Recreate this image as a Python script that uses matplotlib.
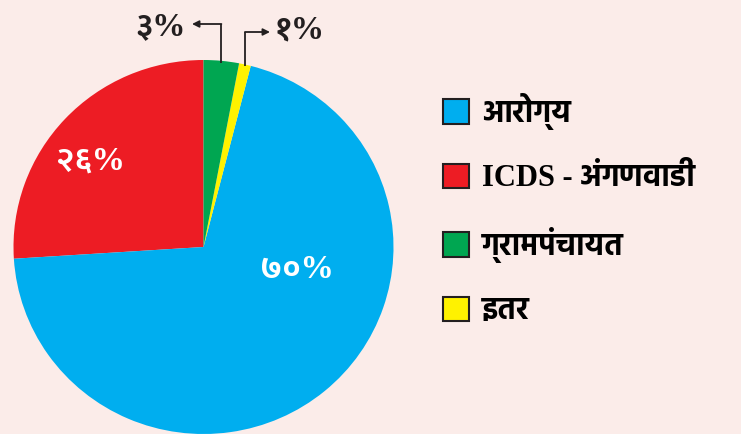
import numpy as np
import matplotlib
matplotlib.use('Agg')
from matplotlib import pyplot as plt
from matplotlib.patches import Patch

### Data ###
labels = ['ICDS - अंगणवाडी', 'आरोग्य', 'इतर', 'ग्रामपंचायत']
shares = [26, 70, 1, 3]
share_text = ['२६%', '७०%', '१%', '३%']
colors = ['#ed1c24', '#00aeef', '#fff200', '#00a651']
legend_order = ['आरोग्य', 'ICDS - अंगणवाडी', 'ग्रामपंचायत', 'इतर']
############

BG = '#fbece9'
INK = '#231f20'
DEVA = ['Liberation Serif', 'Hind', 'DejaVu Sans']
DIGITS = ['Liberation Serif', 'Ek Mukta', 'DejaVu Sans']

W, H = 741, 434
CX, CY = 203.5, 247      # pie centre in pixels (from top left)
RX, RY = 190, 187        # pixels per unit radius

fig = plt.figure(figsize=(W / 100, H / 100), dpi=100, facecolor=BG)
ax = fig.add_axes((0, 0, 1, 1))
ax.set_facecolor(BG)

wedges, _ = ax.pie(shares, colors=colors, startangle=90, counterclock=True,
                   wedgeprops=dict(linewidth=0))
ax.set_aspect('auto')
ax.set_xlim(-CX / RX, (W - CX) / RX)
ax.set_ylim(-(H - CY) / RY, CY / RY)
ax.axis('off')


def px(x, y):
    # pixel position -> data position
    return (x - CX) / RX, (CY - y) / RY


def mid(w):
    a = np.deg2rad((w.theta1 + w.theta2) / 2)
    return np.cos(a), np.sin(a)


# labels inside the big slices
for i, pos in [(0, (90, 161)), (1, (297, 270))]:
    ax.text(*px(*pos), share_text[i], color='white', fontsize=24,
            fontweight='bold', family=DIGITS, ha='center', va='center')

# small slices get labels outside with elbow arrows
for i, (ytop, xend, tpos) in [(3, (24, 192, (161, 27))),
                              (2, (32, 270, (300, 30)))]:
    x0, y0 = mid(wedges[i])
    y1 = px(0, ytop)[1]
    x1 = px(xend, 0)[0]
    ax.plot([x0, x0], [y0 * 0.99, y1], color=INK, lw=1.3, solid_capstyle='butt')
    ax.annotate('', xy=(x1, y1), xytext=(x0, y1),
                arrowprops=dict(arrowstyle='-|>', color=INK, lw=1.3,
                                mutation_scale=10, shrinkA=0, shrinkB=0))
    ax.text(*px(*tpos), share_text[i], color=INK, fontsize=24,
            fontweight='bold', family=DIGITS, ha='center', va='center')

handles = [Patch(facecolor=colors[labels.index(l)], edgecolor=INK, linewidth=1.5)
           for l in legend_order]
fig.legend(handles, legend_order, loc='upper left',
           bbox_to_anchor=(443 / W, 1 - 93 / H), frameon=False, borderpad=0,
           borderaxespad=0, handlelength=0.85, handleheight=0.85,
           handletextpad=0.42, labelspacing=1.1,
           prop=dict(family=DEVA, weight='bold', size=22))

fig.savefig('out.png', dpi=100, facecolor=BG)
